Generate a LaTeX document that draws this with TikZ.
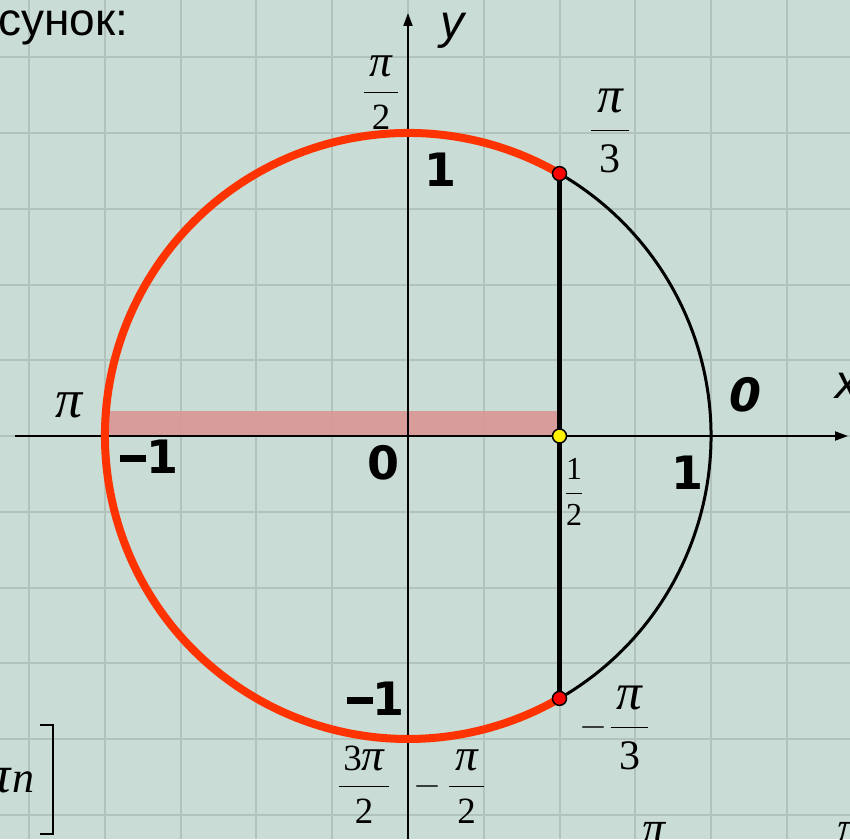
\RequirePackage{fix-cm}
\documentclass[tikz,border=0pt]{standalone}
\usepackage[no-math]{fontspec}
\newfontfamily\dvs{DejaVu Sans}
\newfontfamily\lib{Liberation Sans}
\newfontfamily\tnr{Liberation Serif}
\usetikzlibrary{arrows.meta}
\definecolor{bg}{HTML}{C9DCD5}
\definecolor{gridc}{HTML}{B2C3BC}
\definecolor{arcred}{HTML}{FF3300}
\definecolor{pinkfill}{HTML}{DA9895}
\tikzset{
  gridline/.style={draw=gridc, line width=2pt},
  axisline/.style={draw=black, line width=2pt, -{Triangle[length=13pt,width=9pt]}},
  bigdigit/.style={inner sep=0pt, font=\dvs\bfseries\fontsize{46}{50}\selectfont},
  itdigit/.style={inner sep=0pt, font=\dvs\bfseries\itshape\fontsize{46}{50}\selectfont},
  axlabel/.style={inner sep=0pt, anchor=base, font=\lib\itshape\fontsize{48}{52}\selectfont},
  fracA/.style={inner sep=0pt, anchor=base, font=\tnr\fontsize{37}{40}\selectfont},
  fracB/.style={inner sep=0pt, anchor=base, font=\tnr\fontsize{42}{46}\selectfont},
  fracC/.style={inner sep=0pt, anchor=base, font=\tnr\fontsize{32}{36}\selectfont},
  minuslab/.style={inner sep=0pt, anchor=base, font=\fontsize{36}{40}\selectfont},
  dotnode/.style={circle, draw=black, line width=1.5pt, minimum size=14pt, inner sep=0pt},
}
\newcommand{\myfr}[3][6pt]{$\displaystyle\frac{\kern#1\mbox{#2}\kern#1}{\mbox{\raisebox{-3pt}{#3}}}$}
\newcommand{\mypi}{\scalebox{1.22}{\itshape π}}
\newcommand{\mydash}{\rule[12pt]{26pt}{7pt}\kern0pt}
\begin{document}
\begin{tikzpicture}[x=1pt,y=1pt]
\useasboundingbox (-408,-403) rectangle (442,436);
\clip (-408,-403) rectangle (442,436);
\fill[bg] (-408,-403) rectangle (442,436);
\foreach \k in {-5,...,5} {
  \draw[gridline] (\k*75.75,-403) -- (\k*75.75,436);
  \draw[gridline] (-408,\k*75.75) -- (442,\k*75.75);
}
% pink segment on the x axis
\fill[pinkfill, fill opacity=0.92] (-303,0) rectangle (151.5,25);
% axes
\coordinate (O) at (0,0);
\coordinate (xs) at (-393,0);
\coordinate (xe) at (440,0);
\coordinate (ys) at (0,-403);
\coordinate (ye) at (0,423);
\draw[axisline] (xs) -- (xe);
\draw[axisline] (ys) -- (ye);
% circle
\draw[black, line width=3pt] (-60:303) arc[start angle=-60, end angle=60, radius=303];
\draw[arcred, line width=8pt] (60:303) arc[start angle=60, end angle=300, radius=303];
% points
\coordinate (Pc) at (151.5,262.4);
\coordinate (Qc) at (151.5,-262.4);
\draw[black, line width=5.5pt] (Pc) -- (Qc);
\node[dotnode, fill=red] (P) at (Pc) {};
\node[dotnode, fill=red] (Q) at (Qc) {};
\node[dotnode, fill=yellow] (H) at (151.5,0) {};
% bold numbers
\node[bigdigit] (one1) at (33,266) {1};
\node[bigdigit] (one2) at (279,-37) {1};
\node[bigdigit] (zero) at (-24,-27) {0};
\node[bigdigit] (mone1) at (-258.5,-21) {\mydash 1};
\node[bigdigit] (mone2) at (-32,-263) {\mydash 1};
\node[itdigit] (zeroit) at (337,41) {0};
% axis names
\node[axlabel] (ylab) at (44,397) {y};
\node[axlabel, anchor=base west] (xlab) at (427,38) {x};
% title fragment
\node[inner sep=0pt, anchor=base west, font=\lib\fontsize{46}{50}\selectfont] (title) at (-410,400) {сунок:};
% fractions
\node[fracA] (f1) at (-27,334.75) {\myfr{\mypi}{2}};
\node[fracB] (f2) at (202,295.5) {\myfr{\mypi}{3}};
\node[fracC] (f3) at (166,-65) {\myfr[0pt]{1}{2}};
\node[minuslab] (m4) at (185.5,-300) {$-$};
\node[fracB] (f4) at (221.5,-301.5) {\myfr{\mypi}{3}};
\node[fracA] (f5) at (-44,-359.25) {\myfr[4pt]{3\mypi}{2}};
\node[minuslab] (m6) at (19.5,-359) {$-$};
\node[fracA] (f6) at (58.5,-359.25) {\myfr{\mypi}{2}};
\node[inner sep=0pt, font=\tnr\itshape\fontsize{54}{58}\selectfont] (pileft) at (-339,31) {π};
% cut-off fragments at the edges
\node[inner sep=0pt, anchor=base, font=\tnr\itshape\fontsize{46}{50}\selectfont] (pib1) at (246,-407) {π};
\node[inner sep=0pt, anchor=base, font=\tnr\itshape\fontsize{46}{50}\selectfont] (pib2) at (441,-407) {π};
\node[inner sep=0pt, anchor=base east, font=\tnr\itshape\fontsize{44}{48}\selectfont] (pin) at (-373,-356) {\scalebox{1.2}{π}\kern2pt n};
\coordinate (b1) at (-368,-289);
\coordinate (b2) at (-355,-289);
\coordinate (b3) at (-355,-398);
\coordinate (b4) at (-368,-398);
\draw[black, line width=2pt] (b1) -- (b2) -- (b3) -- (b4);
\end{tikzpicture}
\end{document}
